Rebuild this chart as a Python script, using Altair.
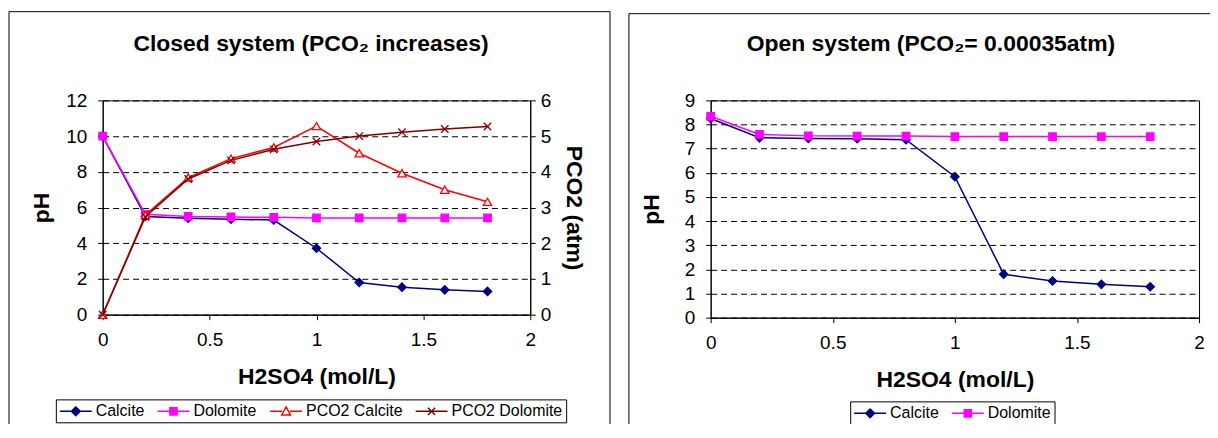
import altair as alt
import pandas as pd

FONT = "Liberation Sans"

# ---------------- data ----------------
h2so4 = [0, 0.2, 0.4, 0.6, 0.8, 1.0, 1.2, 1.4, 1.6, 1.8]

closed_calcite_ph = [10.0, 5.5, 5.4, 5.35, 5.3, 3.72, 1.8, 1.54, 1.39, 1.3]
closed_dolomite_ph = [10.0, 5.62, 5.5, 5.47, 5.45, 5.42, 5.42, 5.42, 5.42, 5.42]
closed_pco2_calcite = [0.0, 2.79, 3.84, 4.37, 4.68, 5.28, 4.52, 3.96, 3.5, 3.16]
closed_pco2_dolomite = [0.0, 2.74, 3.8, 4.32, 4.63, 4.85, 5.0, 5.11, 5.2, 5.27]

open_calcite_ph = [8.25, 7.45, 7.42, 7.41, 7.37, 5.84, 1.8, 1.52, 1.38, 1.28]
open_dolomite_ph = [8.34, 7.59, 7.53, 7.52, 7.52, 7.5, 7.5, 7.5, 7.5, 7.5]

closed_series = ["Calcite", "Dolomite", "PCO2 Calcite", "PCO2 Dolomite"]
open_series = ["Calcite", "Dolomite"]

closed_title = ["Closed system (PCO₂ increases)"]
open_title = ["Open system (PCO₂= 0.00035atm)"]

x_title = "H2SO4 (mol/L)"
ph_title = "pH"
pco2_title = "PCO2 (atm)"

x_ticks = [0, 0.5, 1, 1.5, 2]
closed_ph_ticks = [0, 2, 4, 6, 8, 10, 12]
closed_pco2_ticks = [0, 1, 2, 3, 4, 5, 6]
open_ph_ticks = [0, 1, 2, 3, 4, 5, 6, 7, 8, 9]

# ---------------- styles ----------------
NAVY = "#000080"
MAGENTA = "#FF00FF"
RED = "#FF0000"
DARKRED = "#800000"

X_PATH = "M-1,-1L1,1M-1,1L1,-1"
LEG_PATHS = {
    "Calcite": "M-1,0H3M1,-0.55L1.55,0L1,0.55L0.45,0Z",
    "Dolomite": "M-1,0H3M0.55,-0.45H1.45V0.45H0.55Z",
    "PCO2 Calcite": "M-1,0H0.5M1.5,0H3M1,-0.55L1.55,0.45H0.45Z",
    "PCO2 Dolomite": "M-1,0H3M0.55,-0.45L1.45,0.45M0.55,0.45L1.45,-0.45",
}
LEG_STROKE = {"Calcite": NAVY, "Dolomite": MAGENTA, "PCO2 Calcite": RED, "PCO2 Dolomite": DARKRED}
LEG_FILL = {"Calcite": NAVY, "Dolomite": MAGENTA, "PCO2 Calcite": "#FFFFFF", "PCO2 Dolomite": DARKRED}

LABEL_SIZE = 19
TITLE_SIZE = 23
AXIS_TITLE_SIZE = 23
LEGEND_SIZE = 16


def series_df(values):
    return pd.DataFrame({"x": h2so4, "v": values})


def x_enc():
    return alt.X(
        "x:Q",
        scale=alt.Scale(domain=[0, 2], nice=False),
        axis=alt.Axis(
            values=x_ticks, format="~g", title=x_title, grid=False,
            labelPadding=11, titlePadding=16, labelFlush=False,
        ),
    )


def y_enc(domain, ticks, title, orient, grid, title_pad, label_pad):
    return alt.Y(
        "v:Q",
        scale=alt.Scale(domain=domain, nice=False, zero=False),
        axis=alt.Axis(
            values=ticks, format="~g", title=title, orient=orient, grid=grid,
            gridDash=[6, 4], gridColor="#000000", gridWidth=1,
            titlePadding=title_pad, labelPadding=label_pad, labelFlush=False,
        ),
    )


def series_layers(values, color, shape, size, filled, fill, ydef):
    df = series_df(values)
    line = alt.Chart(df).mark_line(color=color, strokeWidth=1.5).encode(x=x_enc(), y=ydef)
    pt = alt.Chart(df).mark_point(
        shape=shape, size=size, filled=filled, color=color, fill=fill,
        stroke=color, strokeWidth=1.3, opacity=1,
    ).encode(x=x_enc(), y=ydef)
    return [line, pt]


def legend_layer(names, field, lx, ly):
    df = pd.DataFrame({field: names})
    leg = alt.Legend(
        title=None, orient="none", legendX=lx, legendY=ly, direction="horizontal",
        columns=len(names), symbolSize=256, symbolStrokeWidth=1.5,
        labelFont=FONT, labelFontSize=LEGEND_SIZE, labelColor="#000000", labelOffset=19,
        columnPadding=10, padding=3, strokeColor="#000000", symbolOpacity=1,
    )
    return alt.Chart(df).mark_point(opacity=1, filled=False).encode(
        shape=alt.Shape(f"{field}:N", scale=alt.Scale(domain=names, range=[LEG_PATHS[n] for n in names]), legend=leg),
        stroke=alt.Stroke(f"{field}:N", scale=alt.Scale(domain=names, range=[LEG_STROKE[n] for n in names]), legend=leg),
        fill=alt.Fill(f"{field}:N", scale=alt.Scale(domain=names, range=[LEG_FILL[n] for n in names]), legend=leg),
    ).transform_filter("false")


def frame_layer(x1, x2, y1, y2):
    return alt.Chart(pd.DataFrame({"f": [0]})).mark_rect(
        fill=None, fillOpacity=0, stroke="#000000", strokeWidth=1
    ).encode(x=alt.value(x1), x2=alt.value(x2), y=alt.value(y1), y2=alt.value(y2))


def title_layer(text, cx, cy):
    return alt.Chart(pd.DataFrame({"t": text})).mark_text(
        font=FONT, fontSize=TITLE_SIZE, fontWeight="bold", color="#000000",
        align="center", baseline="middle",
    ).encode(text="t:N", x=alt.value(cx), y=alt.value(cy))


# ---------------- closed system ----------------
W1, H1 = 429, 215
y_ph_c = y_enc([0, 12], closed_ph_ticks, ph_title, "left", True, 12, 11)
y_pc_c = y_enc([0, 6], closed_pco2_ticks, pco2_title, "right", False, 11, 5)

ph_c = alt.layer(
    *series_layers(closed_calcite_ph, NAVY, "diamond", 70, True, NAVY, y_ph_c),
    *series_layers(closed_dolomite_ph, MAGENTA, "square", 56, True, MAGENTA, y_ph_c),
)
pc_c = alt.layer(
    *series_layers(closed_pco2_calcite, RED, "triangle-up", 70, False, "#FFFFFF", y_pc_c),
    *series_layers(closed_pco2_dolomite, DARKRED, X_PATH, 56, False, None, y_pc_c),
)
closed = alt.layer(
    frame_layer(-94, 509, -89, 345),
    ph_c, pc_c,
    title_layer(closed_title, 209, -57),
    legend_layer(closed_series, "sc", -47, 300),
).resolve_scale(y="independent").properties(width=W1, height=H1)

# ---------------- open system ----------------
W2, H2 = 490, 218
y_ph_o = y_enc([0, 9], open_ph_ticks, ph_title, "left", True, 21, 11)
open_ = alt.layer(
    frame_layer(-82, 520, -87, 345),
    *series_layers(open_calcite_ph, NAVY, "diamond", 70, True, NAVY, y_ph_o),
    *series_layers(open_dolomite_ph, MAGENTA, "square", 56, True, MAGENTA, y_ph_o),
    title_layer(open_title, 221, -57),
    legend_layer(open_series, "so", 140, 302),
).properties(width=W2, height=H2)

chart = alt.hconcat(closed, open_, spacing=17).resolve_scale(
    shape="independent", stroke="independent", fill="independent"
).resolve_legend(shape="independent", stroke="independent", fill="independent").configure(
    padding={"left": 0, "top": 2, "right": -20, "bottom": -22},
    font=FONT,
).configure_view(stroke="#000000", strokeWidth=1).configure_axis(
    labelFont=FONT, labelFontSize=LABEL_SIZE, labelColor="#000000",
    titleFont=FONT, titleFontSize=AXIS_TITLE_SIZE, titleFontWeight="bold", titleColor="#000000",
    domainColor="#000000", tickColor="#000000", tickSize=5, domainWidth=1, tickWidth=1,
).configure_legend(strokeColor="#000000")

chart.save("out.html", embed_options={"renderer": "svg", "actions": False})
